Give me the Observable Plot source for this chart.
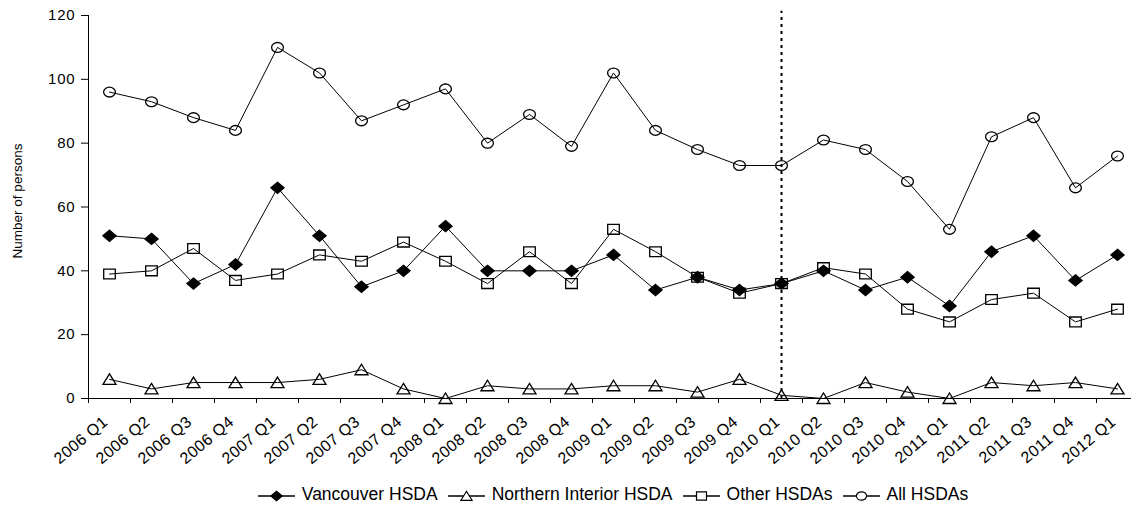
<!DOCTYPE html>
<html>
<head>
<meta charset="utf-8">
<script src="https://cdn.jsdelivr.net/npm/d3@7"></script>
<script src="https://cdn.jsdelivr.net/npm/@observablehq/plot@0.6"></script>
<style>
  body { margin: 0; background: #fff; font-family: "Liberation Sans", Arial, sans-serif; }
  #wrap { position: relative; width: 1131px; height: 507px; overflow: hidden; background: #fff; }
  #chart svg { display: block; }
  #legend { position: absolute; left: 88px; width: 1050px; top: 484px; display: flex; justify-content: center; align-items: center; font-size: 17.5px; color: #000; }
  #legend .item { display: flex; align-items: center; margin-right: 10px; }
  #legend .item:last-child { margin-right: 0; }
  #legend svg { display: block; margin-right: 7px; overflow: visible; }
  .ytitle text { letter-spacing: 0; }
  .xlabels text { letter-spacing: 0.4px; }
</style>
</head>
<body>
<div id="wrap">
  <div id="chart"></div>
  <div id="legend"></div>
</div>
<script>
// ---- data ----
const quarters = ["2006 Q1","2006 Q2","2006 Q3","2006 Q4","2007 Q1","2007 Q2","2007 Q3","2007 Q4",
  "2008 Q1","2008 Q2","2008 Q3","2008 Q4","2009 Q1","2009 Q2","2009 Q3","2009 Q4",
  "2010 Q1","2010 Q2","2010 Q3","2010 Q4","2011 Q1","2011 Q2","2011 Q3","2011 Q4","2012 Q1"];
const vancouver        = [51,50,36,42,66,51,35,40,54,40,40,40,45,34,38,34,36,40,34,38,29,46,51,37,45];
const northernInterior = [6,3,5,5,5,6,9,3,0,4,3,3,4,4,2,6,1,0,5,2,0,5,4,5,3];
const otherHSDAs       = [39,40,47,37,39,45,43,49,43,36,46,36,53,46,38,33,36,41,39,28,24,31,33,24,28];
const allHSDAs         = [96,93,88,84,110,102,87,92,97,80,89,79,102,84,78,73,73,81,78,68,53,82,88,66,76];
const seriesNames = ["Vancouver HSDA", "Northern Interior HSDA", "Other HSDAs", "All HSDAs"];
const yTicks = [0, 20, 40, 60, 80, 100, 120];
const yTitle = "Number of persons";
const dividerQuarter = "2010 Q1";

// ---- symbols (slightly wider than tall, like the reference) ----
function poly(points) {
  return { draw(ctx, size) {
    const k = Math.sqrt(size / Math.PI) / 5;
    points.forEach(([x, y], j) => j ? ctx.lineTo(x * k, y * k) : ctx.moveTo(x * k, y * k));
    ctx.closePath();
  }};
}
function ellipse(rx, ry) {
  return { draw(ctx, size) {
    const k = Math.sqrt(size / Math.PI) / 5, a = rx * k, b = ry * k, c = 0.5523;
    ctx.moveTo(a, 0);
    ctx.bezierCurveTo(a, b * c, a * c, b, 0, b);
    ctx.bezierCurveTo(-a * c, b, -a, b * c, -a, 0);
    ctx.bezierCurveTo(-a, -b * c, -a * c, -b, 0, -b);
    ctx.bezierCurveTo(a * c, -b, a, -b * c, a, 0);
    ctx.closePath();
  }};
}
const diamondSym  = poly([[0, -5.6], [6.6, 0], [0, 5.6], [-6.6, 0]]);
const triangleSym = poly([[0, -5.5], [6.5, 5], [-6.5, 5]]);
const squareSym   = poly([[-5.8, -4.9], [5.8, -4.9], [5.8, 4.9], [-5.8, 4.9]]);
const circleSym   = ellipse(5.9, 4.9);

const series = [
  { name: seriesNames[0], values: vancouver,        symbol: diamondSym,  fill: "black" },
  { name: seriesNames[1], values: northernInterior, symbol: triangleSym, fill: "none" },
  { name: seriesNames[2], values: otherHSDAs,       symbol: squareSym,   fill: "none" },
  { name: seriesNames[3], values: allHSDAs,         symbol: circleSym,   fill: "none" }
];
const rows = series.flatMap(s => s.values.map((v, i) => ({ series: s.name, quarter: quarters[i], value: v })));
const xPos = d => quarters.indexOf(d.quarter) + 0.5;

const marks = [
  Plot.axisY(yTicks, { tickSize: 7, tickPadding: 6, label: null, fontSize: 15 }),
  Plot.axisX(d3.range(quarters.length + 1), { tickSize: 5, tickFormat: () => "", label: null }),
  Plot.text(quarters, {
    x: (q, i) => i + 0.5, text: d => d, frameAnchor: "bottom",
    rotate: -40, textAnchor: "end", lineAnchor: "middle",
    dx: -4, dy: 21, fontSize: 16, className: "xlabels"
  }),
  Plot.frame({ anchor: "left" }),
  Plot.frame({ anchor: "bottom" }),
  Plot.text([yTitle], { frameAnchor: "left", textAnchor: "middle", rotate: -90, dx: -71, dy: -6,
    fontSize: 13.5, className: "ytitle", text: d => d }),
  Plot.line(rows, { x: xPos, y: "value", z: "series", stroke: "black", strokeWidth: 1 }),
  ...series.map(s => Plot.dot(rows.filter(d => d.series === s.name), {
    x: xPos, y: "value", symbol: () => s.symbol, r: 5,
    fill: s.fill, stroke: "black", strokeWidth: 1.3
  })),
  Plot.ruleX([dividerQuarter], {
    x: q => quarters.indexOf(q) + 0.5, y1: 0, y2: 121.3,
    stroke: "black", strokeWidth: 2, strokeDasharray: "3,4"
  })
];

const chart = Plot.plot({
  width: 1131,
  height: 484,
  marginLeft: 88,
  marginRight: 0,
  marginTop: 15,
  marginBottom: 86,
  style: { fontFamily: "'Liberation Sans', Arial, sans-serif", fontSize: "15px", color: "#000", background: "#fff", letterSpacing: "0.8px" },
  x: { type: "linear", domain: [0, quarters.length], range: [88, 1138] },
  y: { domain: [0, 120] },
  symbol: { type: "identity" },
  marks
});
document.getElementById("chart").appendChild(chart);

// ---- legend ----
const legend = document.getElementById("legend");
const ns = "http://www.w3.org/2000/svg";
series.forEach(s => {
  const item = document.createElement("div");
  item.className = "item";
  const svg = document.createElementNS(ns, "svg");
  svg.setAttribute("width", 37); svg.setAttribute("height", 14);
  const line = document.createElementNS(ns, "line");
  line.setAttribute("x1", 0); line.setAttribute("x2", 37);
  line.setAttribute("y1", 8); line.setAttribute("y2", 8);
  line.setAttribute("stroke", "black"); line.setAttribute("stroke-width", 1.3);
  svg.appendChild(line);
  const p = document.createElementNS(ns, "path");
  const path = d3.path();
  s.symbol.draw(path, Math.PI * 4.3 * 4.3);
  p.setAttribute("d", path.toString());
  p.setAttribute("transform", "translate(18.5,8)");
  p.setAttribute("fill", s.fill === "none" ? "white" : s.fill);
  p.setAttribute("stroke", "black"); p.setAttribute("stroke-width", 1.2);
  svg.appendChild(p);
  const label = document.createElement("span");
  label.textContent = s.name;
  item.appendChild(svg); item.appendChild(label);
  legend.appendChild(item);
});
</script>
</body>
</html>
